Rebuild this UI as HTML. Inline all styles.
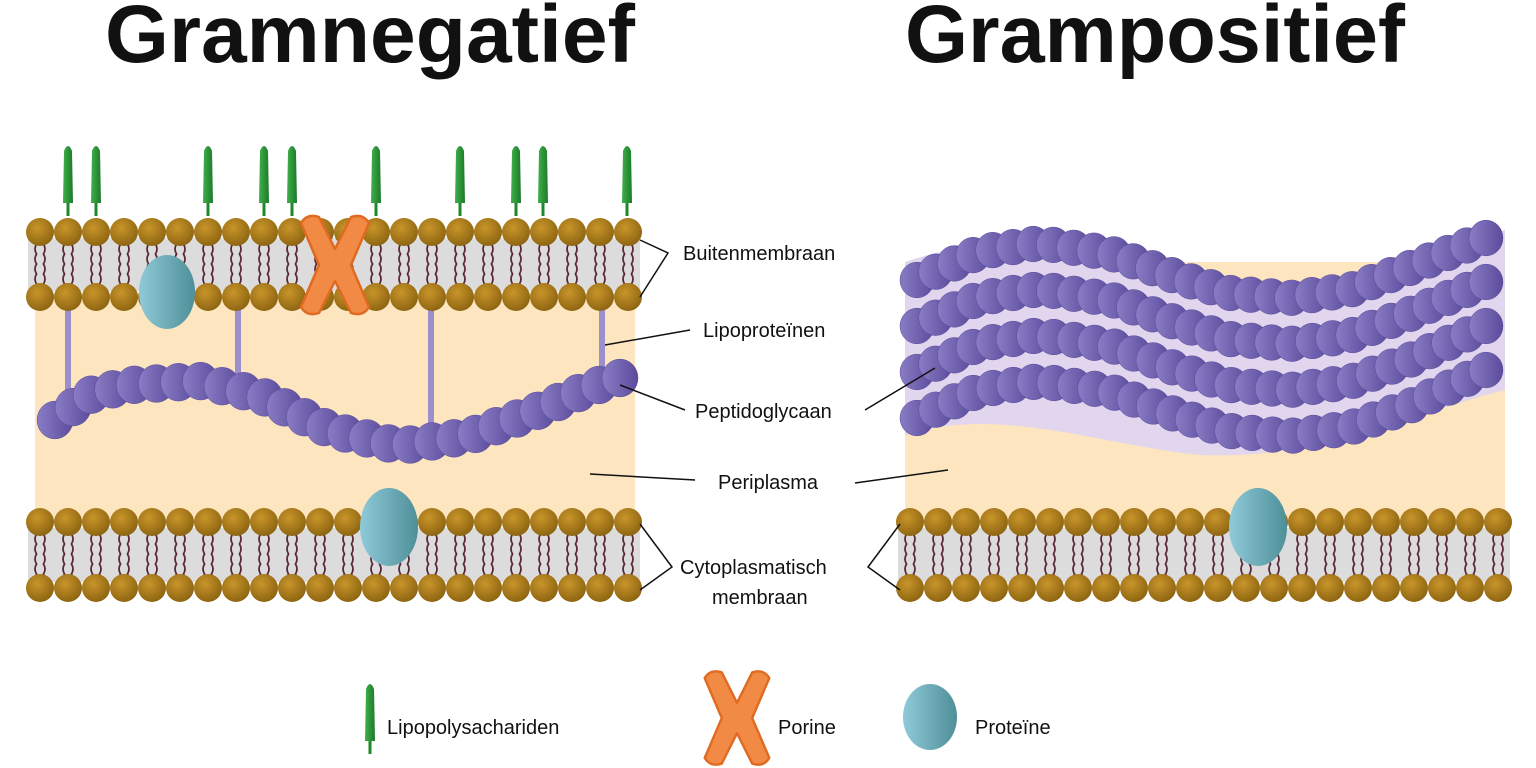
<!DOCTYPE html>
<html><head><meta charset="utf-8"><style>
html,body{margin:0;padding:0;background:#fff;width:1536px;height:768px;overflow:hidden}
svg{display:block}
text{font-family:"Liberation Sans",sans-serif;fill:#111}
</style></head><body>
<svg id="s" width="1536" height="768" viewBox="0 0 1536 768" xmlns="http://www.w3.org/2000/svg">
<defs>
<radialGradient id="gb" cx="0.4" cy="0.35" r="0.7"><stop offset="0" stop-color="#c9952a"/><stop offset="1" stop-color="#8a6210"/></radialGradient>
<linearGradient id="gp" x1="0" y1="0" x2="1" y2="0"><stop offset="0" stop-color="#8a7cc4"/><stop offset="1" stop-color="#5a4c9c"/></linearGradient>
<linearGradient id="gt" x1="0" y1="0" x2="1" y2="0"><stop offset="0" stop-color="#8fcad8"/><stop offset="1" stop-color="#4e8f98"/></linearGradient>
<linearGradient id="gg" x1="0" y1="0" x2="1" y2="0"><stop offset="0" stop-color="#3fb04a"/><stop offset="1" stop-color="#1d7a2a"/></linearGradient>
</defs>
<text x="105" y="62" font-size="82" font-weight="bold" textLength="530" lengthAdjust="spacingAndGlyphs">Gramnegatief</text>
<text x="905" y="62" font-size="82" font-weight="bold" textLength="500" lengthAdjust="spacingAndGlyphs">Grampositief</text>
<rect x="35" y="297" width="600" height="222" fill="#fde5bf"/>
<rect x="905" y="262" width="600" height="257" fill="#fde5bf"/>
<path d="M905 262 C1000 230 1080 240 1200 285 C1300 310 1420 250 1505 230 L1505 390 C1420 410 1330 460 1200 455 C1100 445 1000 405 905 435Z" fill="#e2d6ee"/>
<g id="L"></g>
<g stroke="#111" stroke-width="1.5" fill="none">
<path d="M640 240 L668 253 L640 297"/>
<path d="M605 345 L690 330"/>
<path d="M620 385 L685 410"/>
<path d="M865 410 L935 368"/>
<path d="M590 474 L695 480"/>
<path d="M855 483 L948 470"/>
<path d="M640 524 L672 567 L640 590"/>
<path d="M900 524 L868 567 L900 590"/>
</g>
<text x="683" y="260" font-size="20">Buitenmembraan</text>
<text x="703" y="337" font-size="20">Lipoproteïnen</text>
<text x="695" y="418" font-size="20">Peptidoglycaan</text>
<text x="718" y="489" font-size="20">Periplasma</text>
<text x="680" y="574" font-size="20">Cytoplasmatisch</text>
<text x="712" y="604" font-size="20">membraan</text>
<text x="387" y="734" font-size="20">Lipopolysachariden</text>
<text x="778" y="734" font-size="20">Porine</text>
<text x="975" y="734" font-size="20">Proteïne</text>
</svg>
<script>
var g=document.getElementById('L'),h='';
function membrane(x0,n,yt,yb){
 h+='<rect x="'+(x0-12)+'" y="'+(yt+6)+'" width="'+(28*(n-1)+24)+'" height="'+(yb-yt-12)+'" fill="#dcdcdc"/>';
 for(var i=0;i<n;i++){var x=x0+28*i;
  for(var k=-1;k<=1;k+=2){var xx=x+k*3.5,d='M'+xx+' '+(yt+12);
   for(var y=yt+12;y<yb-12;y+=10){d+=' q'+(k*3)+' 5 0 10';}
   h+='<path d="'+d+'" stroke="#5a2a3a" stroke-width="1.8" fill="none"/>';}
 }
 for(var i=0;i<n;i++){var x=x0+28*i;
  h+='<circle cx="'+x+'" cy="'+yt+'" r="14" fill="url(#gb)"/><circle cx="'+x+'" cy="'+yb+'" r="14" fill="url(#gb)"/>';}
}
function chain(pts,r,n){
 var seg=[],tot=0;for(var i=1;i<pts.length;i++){var dx=pts[i][0]-pts[i-1][0],dy=pts[i][1]-pts[i-1][1],l=Math.hypot(dx,dy);seg.push(l);tot+=l;}
 for(var j=0;j<n;j++){var t=tot*j/(n-1),i=0;while(i<seg.length-1&&t>seg[i]){t-=seg[i];i++;}
  var f=t/seg[i],x=pts[i][0]+(pts[i+1][0]-pts[i][0])*f,y=pts[i][1]+(pts[i+1][1]-pts[i][1])*f;
  h+='<ellipse cx="'+x.toFixed(1)+'" cy="'+y.toFixed(1)+'" rx="'+r+'" ry="'+(r*1.05)+'" fill="url(#gp)" stroke="#5a4c9c" stroke-width="0.5"/>';}
}
[[68,310,392],[238,310,378],[431,310,428],[602,310,372]].forEach(function(a){h+='<rect x="'+(a[0]-3)+'" y="'+a[1]+'" width="6" height="'+(a[2]-a[1])+'" fill="#9b8fcc"/>';});
function lps(x,y){h+='<rect x="'+(x-1.5)+'" y="'+(y+55)+'" width="3" height="16" fill="#1d8a2a"/><path d="M'+(x-5)+' '+(y+58)+' L'+(x-4)+' '+(y+6)+' Q'+x+' '+(y-4)+' '+(x+4)+' '+(y+6)+' L'+(x+5)+' '+(y+58)+'Z" fill="url(#gg)"/>';}
[68,96,208,264,292,376,460,516,543,627].forEach(function(x){lps(x,145);});
membrane(40,22,232,297);
membrane(40,22,522,588);
membrane(910,22,522,588);
function porin(x,y,s){h+='<g transform="translate('+x+','+y+') scale('+s+')" fill="#f08a45" stroke="#e06a20" stroke-width="2.5" stroke-linejoin="round"><path d="M-34 -42 Q-28 -52 -16 -48 L0 -16 L16 -48 Q28 -52 34 -42 L16 0 L34 42 Q28 52 16 48 L0 16 L-16 48 Q-28 52 -34 42 L-16 0Z"/></g>';}
porin(335,265,1.0);
h+='<ellipse cx="167" cy="292" rx="28" ry="37" fill="url(#gt)"/>';
h+='<ellipse cx="389" cy="527" rx="29" ry="39" fill="url(#gt)"/>';
h+='<ellipse cx="1258" cy="527" rx="29" ry="39" fill="url(#gt)"/>';
chain([[55,420],[90,395],[130,385],[200,381],[260,395],[330,430],[400,446],[470,436],[540,410],[590,388],[620,378]],18,28);
for(var r=3;r>=0;r--){var o=r*46;
 chain([[917,280+o],[980,252+o],[1040,243+o],[1110,253+o],[1180,278+o],[1230,293+o],[1290,298+o],[1350,290+o],[1410,268+o],[1486,238+o-r*2]],17,30);}
lps(370,683);
porin(737,718,0.95);
h+='<ellipse cx="930" cy="717" rx="27" ry="33" fill="url(#gt)"/>';
g.innerHTML=h;
</script>
</body></html>
